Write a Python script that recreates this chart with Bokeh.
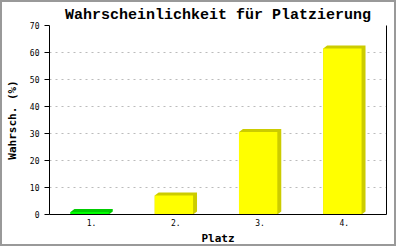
from bokeh.plotting import figure
from bokeh.models import Range1d, FixedTicker, LinearAxis
from bokeh.embed import file_html
from bokeh.resources import INLINE

places = ["1.", "2.", "3.", "4."]
probs = [0.9, 7.0, 30.6, 61.5]
front_colors = ["#00FF00", "#FFFF00", "#FFFF00", "#FFFF00"]
side_colors = ["#00CC00", "#CCCC00", "#CCCC00", "#CCCC00"]
y_ticks = [0, 10, 20, 30, 40, 50, 60, 70]

MONO = "DejaVu Sans Mono"

p = figure(width=396, height=246, x_range=Range1d(0.5, 4.5), y_range=Range1d(0, 70),
           output_backend="svg", toolbar_location=None,
           min_border_left=41, min_border_right=12, min_border_top=23, min_border_bottom=34,
           background_fill_color="white", border_fill_color="white")
p.outline_line_color = None
p.styles = {"border": "2px solid #999999"}

p.title.text = "Wahrscheinlichkeit für Platzierung"
p.title.align = "center"
p.title.text_font = "Liberation Mono"
p.title.text_font_style = "bold"
p.title.text_font_size = "15px"
p.title.text_color = "black"
p.title.standoff = 4
p.title.offset = 0

# bars with pseudo 3D depth
w = 0.455
dx = 0.047
dy = 1.11
xs = [i + 1 for i in range(len(places))]
lefts = [x - (w + dx) / 2 for x in xs]
rights = [l + w for l in lefts]
back_x = [[l, l + dx, r + dx, r + dx, r, l] for l, r in zip(lefts, rights)]
back_y = [[v, v + dy, v + dy, dy, 0, 0] for v in probs]
p.patches(back_x, back_y, fill_color=side_colors, line_color=None)
p.quad(left=lefts, right=rights, bottom=0, top=probs, fill_color=front_colors, line_color=None)

# axes
p.xaxis.ticker = FixedTicker(ticks=xs)
p.xaxis.major_label_overrides = {x: s for x, s in zip(xs, places)}
p.xaxis.axis_label = "Platz"
p.yaxis.ticker = FixedTicker(ticks=y_ticks)
p.yaxis.axis_label = "Wahrsch. (%)"
for ax in (p.xaxis[0], p.yaxis[0]):
    ax.axis_line_color = "black"
    ax.minor_tick_line_color = None
    ax.major_label_text_font = MONO
    ax.major_label_text_font_size = "8px"
    ax.major_label_text_color = "black"
    ax.axis_label_text_font = MONO
    ax.axis_label_text_font_style = "bold"
    ax.axis_label_text_font_size = "11px"
    ax.axis_label_text_color = "black"
p.xaxis.major_tick_line_color = None
p.xaxis.major_tick_out = 0
p.xaxis.major_tick_in = 0
p.yaxis.major_tick_line_color = "black"
p.yaxis.major_tick_out = 5
p.yaxis.major_tick_in = 0
p.xaxis.major_label_standoff = 4
p.yaxis.major_label_standoff = 5
p.xaxis.axis_label_standoff = 3
p.yaxis.axis_label_standoff = 8

right = LinearAxis(ticker=FixedTicker(ticks=[]), axis_line_color="black",
                   major_tick_line_color=None, minor_tick_line_color=None,
                   major_tick_out=0, major_label_text_font_size="0px")
p.add_layout(right, "right")

p.xgrid.grid_line_color = None
p.ygrid.grid_line_color = "#BBBBBB"
p.ygrid.grid_line_dash = "2 4"
p.ygrid.ticker = FixedTicker(ticks=y_ticks[1:])

open("out.html", "w").write(file_html(p, INLINE))
